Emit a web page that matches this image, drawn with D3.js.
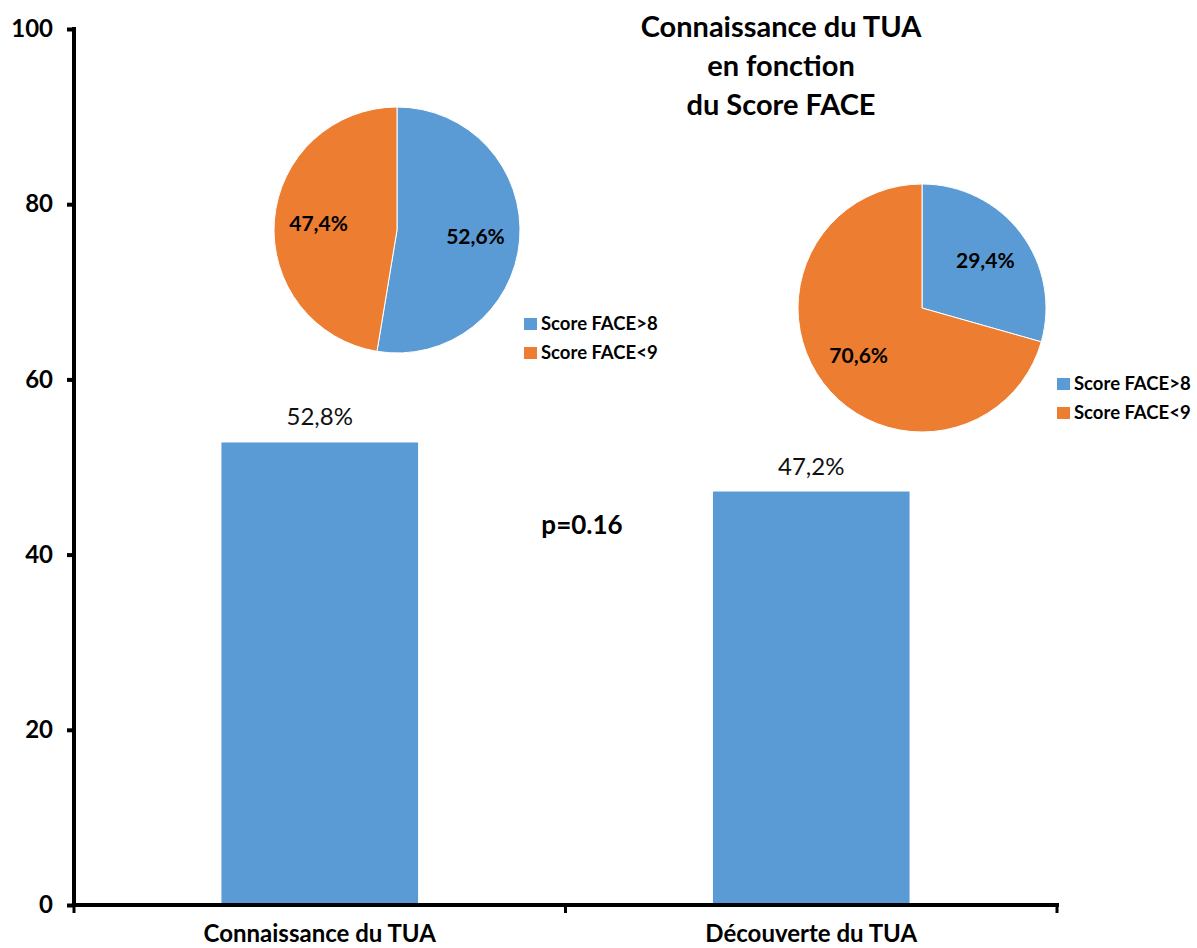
<!DOCTYPE html>
<html>
<head>
<meta charset="utf-8">
<script src="https://cdn.jsdelivr.net/npm/d3@7"></script>
<style>
  html, body { margin: 0; padding: 0; background: #fff; }
  svg { display: block; font-family: Lato, "Open Sans", sans-serif; }
</style>
</head>
<body>
<svg id="chart" width="1197" height="948"></svg>
<script>
// ---- data ----
const categories = ["Connaissance du TUA", "Découverte du TUA"];
const barValues = [52.8, 47.2];
const barLabels = ["52,8%", "47,2%"];
const yTicks = [0, 20, 40, 60, 80, 100];
const titleLines = ["Connaissance du TUA", "en fonction", "du Score FACE"];
const pValueText = "p=0.16";
const pieSeries = ["Score FACE>8", "Score FACE<9"];
const pie1Values = [52.6, 47.4];
const pie1Labels = ["52,6%", "47,4%"];
const pie2Values = [29.4, 70.6];
const pie2Labels = ["29,4%", "70,6%"];
const colors = ["#5B9BD5", "#ED7D31"];

// ---- layout ----
const svg = d3.select("#chart");
const plot = { left: 74, right: 1057, top: 29, bottom: 905 };

const x = d3.scaleBand().domain(categories)
  .range([plot.left, plot.right]).paddingInner(0.6).paddingOuter(0.3);
const y = d3.scaleLinear().domain([0, 100]).range([plot.bottom, plot.top]);

// bars
svg.append("g").selectAll("rect").data(barValues).join("rect")
  .attr("x", (d, i) => x(categories[i]))
  .attr("width", x.bandwidth())
  .attr("y", d => y(d))
  .attr("height", d => y(0) - y(d))
  .attr("fill", colors[0]);

// bar labels
svg.append("g").selectAll("text").data(barValues).join("text")
  .attr("x", (d, i) => x(categories[i]) + x.bandwidth() / 2)
  .attr("y", d => y(d) - 17)
  .attr("text-anchor", "middle")
  .attr("font-size", 24)
  .attr("fill", "#111")
  .text((d, i) => barLabels[i]);

// y axis
const yAxis = d3.axisLeft(y).tickValues(yTicks).tickSize(7).tickPadding(14).tickFormat(d3.format("d"));
const gy = svg.append("g").attr("transform", `translate(${plot.left},0)`).call(yAxis);
gy.select(".domain").attr("stroke", "#000").attr("stroke-width", 4).attr("d", `M0,${plot.top - 2}V${plot.bottom + 2}`);
gy.selectAll(".tick line").attr("stroke", "#000").attr("stroke-width", 4);
gy.selectAll(".tick text").attr("font-size", 24).attr("font-weight", "bold").attr("fill", "#000")
  .attr("font-family", "Lato, sans-serif");

// x axis (category boundary ticks)
const boundaries = [plot.left, x(categories[1]) - x.step() * x.paddingInner() / 2, plot.right];
const gx = svg.append("g");
gx.append("line").attr("x1", plot.left - 2).attr("x2", plot.right + 2)
  .attr("y1", y(0)).attr("y2", y(0)).attr("stroke", "#000").attr("stroke-width", 4);
gx.selectAll("line.t").data(boundaries).join("line").attr("class", "t")
  .attr("x1", d => d).attr("x2", d => d)
  .attr("y1", y(0)).attr("y2", y(0) + 8)
  .attr("stroke", "#000").attr("stroke-width", 3);
gx.selectAll("text").data(categories).join("text")
  .attr("x", d => x(d) + x.bandwidth() / 2)
  .attr("y", y(0) + 37)
  .attr("text-anchor", "middle")
  .attr("font-size", 24).attr("font-weight", "bold").attr("fill", "#000")
  .text(d => d);

// title
svg.append("g").selectAll("text").data(titleLines).join("text")
  .attr("x", 781).attr("y", (d, i) => 37 + i * 39)
  .attr("text-anchor", "middle")
  .attr("font-size", 29).attr("font-weight", "bold").attr("fill", "#000")
  .text(d => d);

// p value
svg.append("text").attr("x", 582).attr("y", 534)
  .attr("text-anchor", "middle").attr("font-size", 26).attr("font-weight", "bold")
  .attr("fill", "#000").text(pValueText);

// pies
function drawPie(cx, cy, r, values, labels, legendX, legendY) {
  const g = svg.append("g").attr("transform", `translate(${cx},${cy})`);
  const arcs = d3.pie().sort(null)(values);
  const arc = d3.arc().innerRadius(0).outerRadius(r);
  const labelArc = d3.arc().innerRadius(r * 0.64).outerRadius(r * 0.64);
  g.selectAll("path").data(arcs).join("path")
    .attr("d", arc).attr("fill", (d, i) => colors[i])
    .attr("stroke", "#fff").attr("stroke-width", 1);
  g.selectAll("text").data(arcs).join("text")
    .attr("transform", d => `translate(${labelArc.centroid(d)})`)
    .attr("text-anchor", "middle").attr("dy", "0.35em")
    .attr("font-size", 21).attr("font-weight", "bold").attr("fill", "#000")
    .text((d, i) => labels[i]);
  const lg = svg.append("g").attr("transform", `translate(${legendX},${legendY})`);
  const items = lg.selectAll("g").data(pieSeries).join("g")
    .attr("transform", (d, i) => `translate(0,${i * 29})`);
  items.append("rect").attr("width", 13).attr("height", 12).attr("fill", (d, i) => colors[i]);
  items.append("text").attr("x", 17).attr("y", 6).attr("dy", "0.35em")
    .attr("font-size", 18.5).attr("font-weight", "bold").attr("fill", "#000")
    .text(d => d);
}
drawPie(397, 230, 123, pie1Values, pie1Labels, 524, 318);
drawPie(922, 308, 124, pie2Values, pie2Labels, 1057, 378);
</script>
</body>
</html>
